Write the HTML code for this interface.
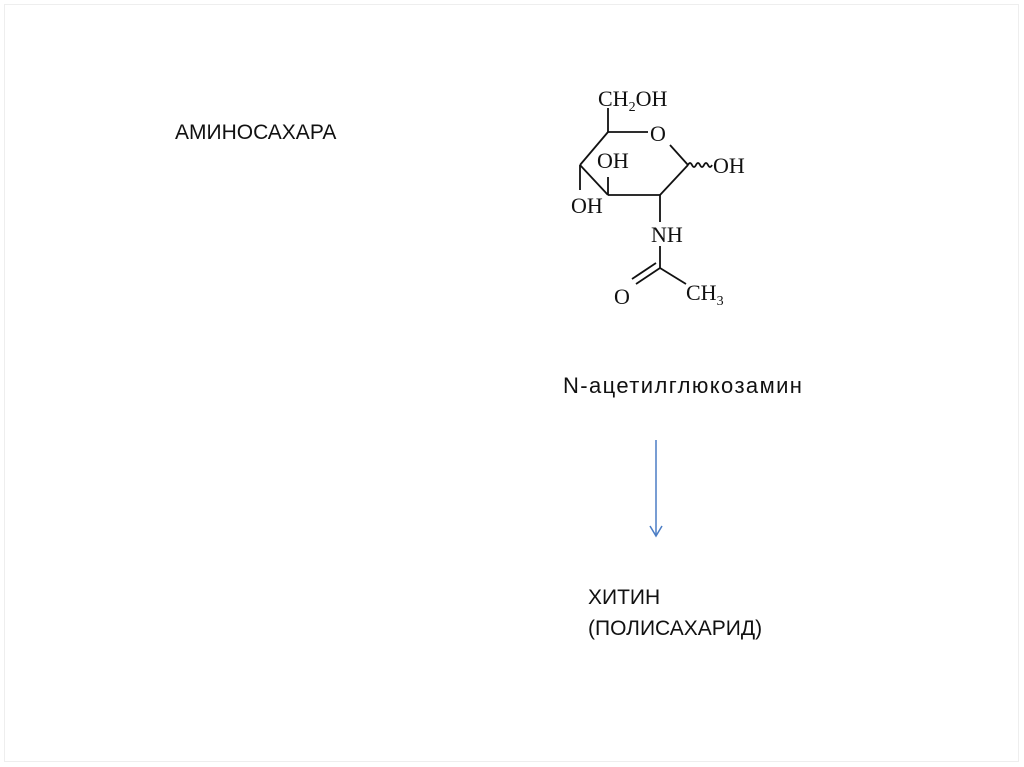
<!DOCTYPE html>
<html><head><meta charset="utf-8"><style>
body{margin:0;width:1024px;height:767px;background:#fff;overflow:hidden;position:relative;font-family:"Liberation Sans",sans-serif}
.t{position:absolute;font-size:21px;color:#111;white-space:nowrap;line-height:1}
</style></head><body>
<div style="position:absolute;left:4px;top:4px;width:1013px;height:756px;border:1px solid #eee"></div>
<div class="t" style="left:175px;top:122px">АМИНОСАХАРА</div>
<div class="t" style="left:563px;top:375px;font-size:22px;letter-spacing:1.4px">N-ацетилглюкозамин</div>
<div class="t" style="left:588px;top:587px">ХИТИН</div>
<div class="t" style="left:588px;top:618px">(ПОЛИСАХАРИД)</div>
<svg width="1024" height="767" style="position:absolute;left:0;top:0" font-family="Liberation Serif,serif" font-size="22" fill="#111">
<g stroke="#111" stroke-width="1.8" fill="none">
<line x1="608" y1="108" x2="608" y2="132"/>
<line x1="608" y1="132" x2="648" y2="132"/>
<line x1="670" y1="145" x2="688" y2="165"/>
<path d="M688 165 q2 -4 4 0 t4 0 t4 0 t4 0 t4 0 t4 0"/>
<line x1="688" y1="165" x2="660" y2="195"/>
<line x1="660" y1="195" x2="608" y2="195"/>
<line x1="608" y1="195" x2="580" y2="165"/>
<line x1="580" y1="165" x2="608" y2="132"/>
<line x1="608" y1="195" x2="608" y2="177"/>
<line x1="580" y1="165" x2="580" y2="190"/>
<line x1="660" y1="195" x2="660" y2="222"/>
<line x1="660" y1="246" x2="660" y2="268"/>
<line x1="660" y1="268" x2="686" y2="284"/>
<line x1="660" y1="268" x2="636" y2="284"/>
<line x1="656" y1="263" x2="632" y2="279"/>
</g>
<text x="598" y="106">CH<tspan font-size="14" dy="5">2</tspan><tspan dy="-5">OH</tspan></text>
<text x="650" y="141">O</text>
<text x="713" y="173">OH</text>
<text x="597" y="168">OH</text>
<text x="571" y="213">OH</text>
<text x="651" y="242">NH</text>
<text x="614" y="304">O</text>
<text x="686" y="300">CH<tspan font-size="14" dy="5">3</tspan></text>
<line x1="656" y1="440" x2="656" y2="535" stroke="#4a7cc4" stroke-width="1.5"/>
<path d="M650 526 L656 536 L662 526" stroke="#4a7cc4" stroke-width="1.5" fill="none"/>
</svg>
</body></html>
